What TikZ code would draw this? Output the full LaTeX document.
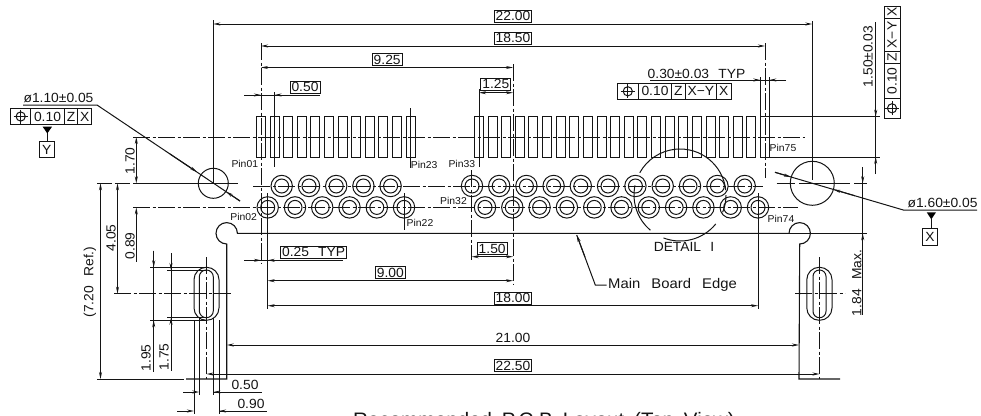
\documentclass[tikz,border=0pt]{standalone}
\usepackage{fontspec}
\usetikzlibrary{arrows.meta,calc}
\setmainfont[FakeStretch=1.04,WordSpace=2.4]{Liberation Sans}
\newfontfamily\widefont[FakeStretch=1.05,WordSpace=1.75]{Liberation Sans}
\newfontfamily\edgefont[FakeStretch=1.06,WordSpace=2.7]{Liberation Sans}
\tikzset{
  ln/.style={line width=1pt,black!92},
  ctr/.style={ln,dash pattern=on 17pt off 2.5pt on 3pt off 2.5pt},
  ar/.style={ln,-{Stealth[length=7pt,width=3pt]}},
  arr/.style={ln,{Stealth[length=7pt,width=3pt]}-{Stealth[length=7pt,width=3pt]}},
  lbl/.style={inner sep=0pt,font=\fontsize{13.3}{13.3}\selectfont,black!92},
  pinl/.style={inner sep=0pt,font=\fontsize{10}{10}\selectfont,black!92},
  boxl/.style={lbl,draw,line width=0.9pt,inner xsep=1.5pt,inner ysep=1.4pt,text height=9.3pt,text depth=0pt},
  pad/.style={ln},
  hole/.style={ln},
}
\newcommand{\gsym}[2]{%
  \draw[ln] (#1,#2) circle[radius=4.6];
  \draw[ln] (#1-7,#2)--(#1+7,#2) (#1,#2-7)--(#1,#2+7);}
\begin{document}
\begin{tikzpicture}[x=1pt,y=-1pt]
\useasboundingbox (0,0) rectangle (981,415);
% pads
\foreach \i in {0,...,11} {\pgfmathsetmacro\cx{261+13.6*\i}
  \draw[pad] (\cx-4.5,116.7) rectangle (\cx+4.5,157);}
\foreach \i in {0,...,21} {\pgfmathsetmacro\cx{479+13.62*\i}
  \draw[pad] (\cx-4.5,116.7) rectangle (\cx+4.5,157);}
% centre lines
\draw[ctr] (133,137)--(805,137);
\draw[ctr] (253,186)--(763,186);
\draw[ctr] (133,207.5)--(798,207.5);
% holes
\foreach \x in {281.7,309,336.2,363.4,390.6,472,499.2,526.4,553.6,580.8,608,635.4,662.7,690,717.4,744.7} {
  \draw[hole] (\x,186) circle[radius=10.7] (\x,186) circle[radius=7];}
\foreach \x in {267.7,295,322.2,349.5,376.8,404,485,512.3,539.6,566.9,594.2,621.5,648.8,676.1,703.4,730.7,758} {
  \draw[hole] (\x,207.4) circle[radius=10.7] (\x,207.4) circle[radius=7];}
% board outline
\draw[ln,line width=1.1pt] (789,233.3)--(237.4,233.3) arc[start angle=0,end angle=-270,radius=10.7]--(226.7,379)--(186,379);
\draw[ln,line width=1.1pt] (789,233.3) arc[start angle=-180,end angle=90,radius=10.7]--(799,379)--(840,379);
% mounting holes
\draw[ln] (213.3,183.3) circle[radius=15];
\draw[ln] (812.3,183.3) circle[radius=22];
% slots
\draw[ln,rounded corners=12.4] (194,267.3) rectangle (219,320.3);
\draw[ln,rounded corners=6.9] (199.3,270) rectangle (213.3,317.7);
\draw[ln,rounded corners=12.4] (806.8,267.3) rectangle (832,320.3);
\draw[ln,rounded corners=6.4] (813,270) rectangle (826,317.7);
\draw[ctr] (206.5,257)--(206.5,379);
\draw[ctr] (819.5,257)--(819.5,379);
\draw[ctr] (114,293.7)--(231,293.7);
\draw[ctr] (795,293.7)--(845,293.7);
% detail circle
\foreach \a/\b in {6/151,168/230,249/321,338/360} {
  \draw[ln] ($(680,195)+(-\a:46)$) arc[start angle=-\a,end angle=-\b,radius=46];}
% vertical extension lines
\draw[ln] (213.3,20)--(213.3,183.3);
\draw[ln] (812.3,21)--(812.3,180);
\draw[ctr] (261,43)--(261,263);
\draw[ctr] (765,43)--(765,178);
\draw[ln] (274.5,92)--(274.5,167);
\draw[ln] (410.7,108)--(410.7,168);
\draw[ln] (479,89)--(479,167);
\draw[ctr] (513,64)--(513,284);
\draw[ln] (760.3,77)--(760.3,158);
\draw[ln] (769.3,77)--(769.3,158);
\draw[ln] (267.7,193)--(267.7,309);
\draw[ln] (404,193)--(404,230);
\draw[ctr] (471.7,170)--(471.7,260);
\draw[ln] (758,193)--(758,309);
% horizontal dims
\draw[arr] (213.3,24)--(812.3,24);
\draw[arr] (261,46)--(765,46);
\draw[arr] (261,67.5)--(513,67.5);
\draw[ln] (244,95)--(320,95);
\draw[ar] (244,95)--(261,95);
\draw[ar] (292,95)--(274.5,95);
\draw[arr] (479,92.7)--(513,92.7);
\draw[ln] (650,80)--(786,80);
\draw[ar] (735,80)--(760.3,80);
\draw[ar] (786,80)--(769.3,80);
\draw[ln] (244,260.3)--(343.3,260.3);
\draw[ar] (244,260.3)--(261,260.3);
\draw[ar] (285,260.3)--(267.7,260.3);
\draw[arr] (471.7,256.7)--(513,256.7);
\draw[arr] (267.7,280.7)--(513,280.7);
\draw[arr] (267.7,305.7)--(758,305.7);
\draw[arr] (226.7,345)--(799,345);
\draw[arr] (206.5,374)--(819.5,374);
% horizontal extension lines
\draw[ln] (765,116.7)--(880,116.7);
\draw[ln] (769,157)--(880,157);
\draw[ln] (97,183.3)--(111.5,183.3) (115,183.3)--(130,183.3) (133,183.3)--(238,183.3);
\draw[ln] (776.7,183.3)--(795,183.3) (799,183.3)--(850,183.3) (854,183.3)--(866.7,183.3);
\draw[ln] (789,233.3)--(867,233.3);
\draw[ln] (97,379)--(184,379);
\draw[ln] (150,267.3)--(206,267.3) (150,320.3)--(206,320.3);
\draw[ln] (167,270)--(206,270) (167,317.7)--(206,317.7);
% vertical dims
\draw[arr] (136.3,137)--(136.3,183.3);
\draw[ar] (136.3,261.7)--(136.3,207.5);
\draw[arr] (117.5,183.3)--(117.5,293.7);
\draw[arr] (100.5,183.3)--(100.5,379);
\draw[ln] (153.7,250.7)--(153.7,371.7);
\draw[ar] (153.7,250.7)--(153.7,267.3);
\draw[ar] (153.7,371.7)--(153.7,320.3);
\draw[ln] (171,253)--(171,370.7);
\draw[ar] (171,253)--(171,270);
\draw[ar] (171,370.7)--(171,317.7);
\draw[ln] (875.7,22)--(875.7,174);
\draw[ar] (875.7,90)--(875.7,116.7);
\draw[ar] (875.7,174)--(875.7,157);
\draw[ln] (862.7,167)--(862.7,315);
\draw[ar] (862.7,167)--(862.7,183.3);
\draw[ar] (862.7,260)--(862.7,233.3);
% bottom slot dims
\draw[ln] (194,320)--(194,414) (219,320)--(219,414);
\draw[ln] (199.3,318)--(199.3,395) (213.3,318)--(213.3,395);
\draw[ar] (183,392)--(199.3,392);
\draw[ln] (213.3,392)--(262,392);
\draw[ar] (235,392)--(213.3,392);
\draw[ar] (177,411)--(194,411);
\draw[ln] (219,411)--(267,411);
\draw[ar] (240,411)--(219,411);
% leaders
\draw[ln] (23,105)--(97,105)--(240,201);
\draw[ar] (170,154)--(197,172);
\draw[ar] (240,201)--(226,191.6);
\draw[ln] (775,172.3)--(903.3,210)--(977,210);
\draw[ar] (775,172.3)--(791,177);
\draw[ar] (855,195.8)--(833.5,189.5);
\draw[ln] (576.7,235)--(595.3,285)--(606.7,285);
\draw[ar] (585,257)--(576.7,235);
% boxed labels
\node[boxl] (d2200) at (513,16.2) {22.00};
\node[boxl] (d1850) at (513,38) {18.50};
\node[boxl] (d925) at (387.2,59.6) {9.25};
\node[boxl] (d050) at (305,87) {0.50};
\node[boxl] (d125) at (495.8,84.2) {1.25};
\node[boxl] (d025) at (313.6,252.2) {0.25 TYP};
\node[boxl] (d150) at (492.2,248.8) {1.50};
\node[boxl] (d900) at (390.3,272.8) {9.00};
\node[boxl] (d1800) at (513,298) {18.00};
\node[boxl] (d2250) at (513,365.8) {22.50};
% plain labels
\node[lbl] (d2100) at (513,337.5) {21.00};
\node[lbl] (dia110) at (58.5,98) {ø1.10±0.05};
\node[lbl] (dia160) at (942.5,203) {ø1.60±0.05};
\node[lbl] (d030) at (696.5,74) {0.30±0.03 TYP};
\node[lbl,rotate=90] (d170) at (130,161) {1.70};
\node[lbl,rotate=90] (d089) at (130,246) {0.89};
\node[lbl,rotate=90] (d405) at (111,238) {4.05};
\node[lbl,rotate=90] (d720) at (90,282) {(7.20 Ref.)};
\node[lbl,rotate=90] (d195) at (146,358) {1.95};
\node[lbl,rotate=90] (d175) at (164,357) {1.75};
\node[lbl,rotate=90] (d184) at (856.7,283) {1.84 Max.};
\node[lbl,rotate=90] (d150v) at (868,56.5) {1.50±0.03};
\node[lbl] (b050) at (245,385) {0.50};
\node[lbl] (b090) at (251,404) {0.90};
\node[lbl,font=\edgefont\fontsize{14}{14}\selectfont] (edge) at (672.5,285) {Main Board Edge};
\node[lbl] (detail) at (684,246.7) {DETAIL I};
\node[inner sep=0pt,anchor=base west,font=\widefont\fontsize{19.5}{19.5}\selectfont,black!92] (title) at (353,426) {Recommended P.C.B Layout (Top View)};
% pin labels
\node[pinl] (p01) at (244.8,163.5) {Pin01};
\node[pinl] (p23) at (424.2,165) {Pin23};
\node[pinl] (p33) at (461.8,164) {Pin33};
\node[pinl] (p32) at (453.5,200.7) {Pin32};
\node[pinl] (p75) at (783,148) {Pin75};
\node[pinl] (p02) at (243.7,216.5) {Pin02};
\node[pinl] (p22) at (420,223.3) {Pin22};
\node[pinl] (p74) at (781,219) {Pin74};
% frame Z X (left)
\draw[ln] (10.7,108.3) rectangle (91.7,124.7);
\draw[ln] (30.7,108.3)--(30.7,124.7) (64.3,108.3)--(64.3,124.7) (77.7,108.3)--(77.7,124.7);
\gsym{20.7}{116.5}
\node[lbl] (f1a) at (47.5,116.7) {0.10};
\node[lbl] (f1b) at (71,116.7) {Z};
\node[lbl] (f1c) at (84.7,116.7) {X};
\fill[black] (42.7,126.7)--(52,126.7)--(47.3,133.5)--cycle;
\draw[ln] (47.3,133)--(47.3,141);
\node[lbl,draw,line width=0.9pt,minimum width=14.7pt,minimum height=16.7pt] (dy) at (46.7,149.5) {Y};
% frame top middle
\draw[ln] (617.3,83.3) rectangle (731,99.3);
\draw[ln] (638.3,83.3)--(638.3,99.3) (671.7,83.3)--(671.7,99.3) (685,83.3)--(685,99.3) (716.7,83.3)--(716.7,99.3);
\gsym{627.8}{91.3}
\node[lbl] (f2a) at (655,91.4) {0.10};
\node[lbl] (f2b) at (678.3,91.4) {Z};
\node[lbl] (f2c) at (700.8,91.4) {X−Y};
\node[lbl] (f2d) at (723.8,91.4) {X};
% frame vertical right
\draw[ln] (884,6) rectangle (900,118.3);
\draw[ln] (884,18.3)--(900,18.3) (884,51.7)--(900,51.7) (884,63.3)--(900,63.3) (884,98.3)--(900,98.3);
\gsym{892}{108.3}
\node[lbl,rotate=90] (f3a) at (892,80.8) {0.10};
\node[lbl,rotate=90] (f3b) at (892,57.5) {Z};
\node[lbl,rotate=90] (f3c) at (892,35) {X−Y};
\node[lbl,rotate=90] (f3d) at (892,12.2) {X};
% datum X
\fill[black] (926.7,212.3)--(936,212.3)--(931.3,219.3)--cycle;
\draw[ln] (931.3,219)--(931.3,228.3);
\node[lbl,draw,line width=0.9pt,minimum width=14.6pt,minimum height=16.7pt] (dx) at (930,236.7) {X};
\end{tikzpicture}
\end{document}
